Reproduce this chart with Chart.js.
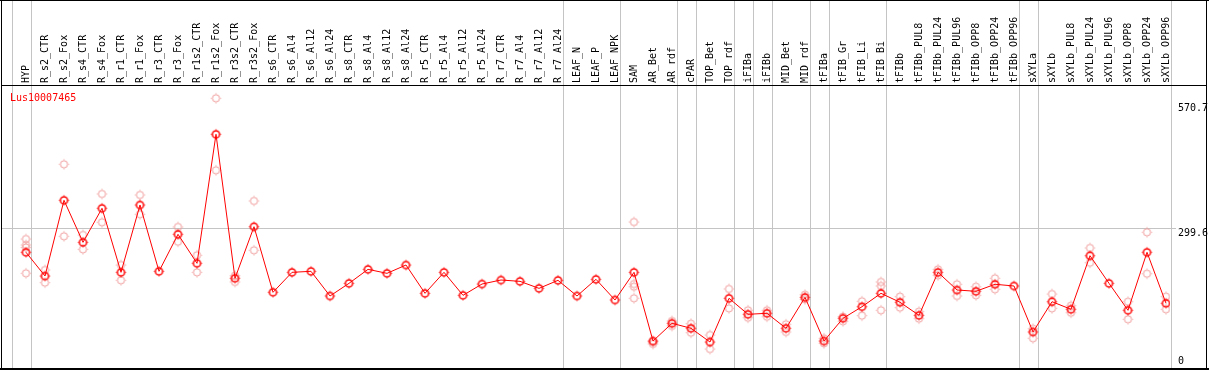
<!DOCTYPE html>
<html><head><meta charset="utf-8">
<script src="https://cdn.jsdelivr.net/npm/chart.js@4"></script>
<style>html,body{margin:0;padding:0;background:#fff;overflow:hidden}</style>
</head><body>
<canvas id="c" width="1209" height="370"></canvas>
<script>
const categories = ['HYP','R_s2_CTR','R_s2_Fox','R_s4_CTR','R_s4_Fox','R_r1_CTR','R_r1_Fox','R_r3_CTR','R_r3_Fox','R_r1s2_CTR','R_r1s2_Fox','R_r3s2_CTR','R_r3s2_Fox','R_s6_CTR','R_s6_Al4','R_s6_Al12','R_s6_Al24','R_s8_CTR','R_s8_Al4','R_s8_Al12','R_s8_Al24','R_r5_CTR','R_r5_Al4','R_r5_Al12','R_r5_Al24','R_r7_CTR','R_r7_Al4','R_r7_Al12','R_r7_Al24','LEAF_N','LEAF_P','LEAF_NPK','SAM','AR_Bet','AR_rdf','cPAR','TOP_Bet','TOP_rdf','iFIBa','iFIBb','MID_Bet','MID_rdf','tFIBa','tFIB_Gr','tFIB_Li','tFIB_Bi','tFIBb','tFIBb_PUL8','tFIBb_PUL24','tFIBb_PUL96','tFIBb_OPP8','tFIBb_OPP24','tFIBb_OPP96','sXYLa','sXYLb','sXYLb_PUL8','sXYLb_PUL24','sXYLb_PUL96','sXYLb_OPP8','sXYLb_OPP24','sXYLb_OPP96'];
const means = [247.0,195.5,360.0,268.7,342.6,203.5,349.8,205.7,286.1,223.1,503.4,190.5,302.6,160.1,203.5,205.7,152.1,179.6,210.0,201.3,219.4,157.9,203.5,153.5,178.1,186.8,183.9,168.7,186.1,152.1,188.3,143.4,203.5,54.3,92.8,81.9,52.1,147.1,112.3,114.5,81.9,149.2,54.3,103.6,128.8,157.9,138.4,110.1,203.5,165.1,162.3,177.5,173.8,73.9,139.7,123.2,239.6,179.6,121.0,247.0,136.2];
const replicates = [[275.9,262.9,257.4,201.4],[208.6,181.0],[438.2,281.8],[284.6,253.5],[373.7,312.2],[219.4,186.2],[371.5,329.6],[],[302.0,270.0],[240.5,203.5],[581.6,425.2],[196.2,182.5],[358.5,251.4],[],[],[],[],[],[],[],[],[],[],[],[],[],[],[],[],[],[],[],[312.8,178.1,172.3,147.1],[52.0,47.8],[97.8,86.9],[91.9,72.3],[67.3,36.9],[167.3,125.3],[121.0,104.9],[121.0,107.1],[90.6,73.9],[154.9,144.9],[60.2,49.3],[107.1,97.1],[140.6,109.3],[182.5,173.8,121.0],[150.6,126.7],[118.0,102.8],[210.0,197.0],[177.5,152.1],[172.3,153.6],[190.5,166.6],[],[81.0,60.2],[156.4,125.3],[131.0,115.8],[256.4,224.4],[],[139.7,101.5],[290.5,200.5],[150.6,123.2]];
const yTickValues = [0, 299.6, 570.7];
const yTickLabels = ['0', '299.6', '570.7'];
const separatorsAfter = [-1,0,28,31,34,35,37,38,39,41,42,45,52,53,60];
const seriesName = 'Lus10007465';

const FONT = '"DejaVu Sans Mono", monospace';

function makeMarker(color, r, lw) {
  const s = 13, c = document.createElement('canvas');
  c.width = s; c.height = s;
  const g = c.getContext('2d');
  g.strokeStyle = color; g.lineWidth = lw;
  g.beginPath(); g.arc(6.5, 6.5, r, 0, Math.PI * 2); g.stroke();
  g.fillStyle = color;
  g.fillRect(6, 1.5, 1, 1); g.fillRect(6, 10.5, 1, 1);
  g.fillRect(1.5, 6, 1, 1); g.fillRect(10.5, 6, 1, 1);
  return c;
}
const meanMarker = makeMarker('#ff0000', 3.6, 1.5);
const repMarker = makeMarker('#f09a9a', 3.6, 1.0);

const meanData = means.map((v, i) => ({x: i, y: v}));
const repData = [];
replicates.forEach((arr, i) => arr.forEach(v => repData.push({x: i, y: v})));

const deco = {
  id: 'deco',
  beforeDatasetsDraw(chart) {
    const ctx = chart.ctx, xs = chart.scales.x;
    ctx.save();
    ctx.fillStyle = '#c4c4c4';
    separatorsAfter.forEach(i => {
      const px = Math.round(xs.getPixelForValue(i + 0.24));
      ctx.fillRect(px, 0, 1, 370);
    });
    ctx.restore();
  },
  afterDraw(chart) {
    const ctx = chart.ctx, ys = chart.scales.y;
    ctx.save();
    ctx.fillStyle = '#000';
    ctx.fillRect(0, 0, 1209, 1);
    ctx.fillRect(1, 0, 1, 370);
    ctx.fillRect(0, 368, 1209, 2);
    ctx.fillRect(1206, 0, 1, 370);
    ctx.fillRect(1, 85, 1206, 1);
    ctx.font = '10px ' + FONT;
    ctx.textBaseline = 'alphabetic';
    ctx.textAlign = 'left';
    yTickValues.forEach((v, k) => {
      const py = ys.getPixelForValue(v);
      const base = v === 0 ? py - 1.5 : py + 7.5;
      ctx.fillText(yTickLabels[k], 1178, base);
    });
    ctx.fillStyle = '#ff0000';
    ctx.fillText(seriesName, 10, 101);
    ctx.restore();
  }
};

new Chart(document.getElementById('c'), {
  type: 'line',
  data: {
    datasets: [
      {label: seriesName, data: meanData, borderColor: '#ff0000', borderWidth: 1, tension: 0,
       pointStyle: meanMarker, pointRadius: 5, pointHoverRadius: 5, fill: false},
      {label: 'replicates', data: repData, showLine: false, borderColor: '#f09a9a',
       pointStyle: repMarker, pointRadius: 5, pointHoverRadius: 5}
    ]
  },
  options: {
    responsive: false,
    animation: false,
    events: [],
    layout: {autoPadding: false, padding: {left: 2, right: 0, top: 0, bottom: 2}},
    plugins: {legend: {display: false}, tooltip: {enabled: false}, title: {display: false}},
    scales: {
      x: {
        type: 'linear', position: 'top',
        min: -24 / 19, max: -24 / 19 + 1168 / 19,
        afterBuildTicks: s => { s.ticks = categories.map((_, i) => ({value: i})); },
        afterFit: s => { s.height = 86; s.paddingLeft = 0; s.paddingRight = 0; },
        grid: {display: false, drawTicks: false},
        border: {display: false},
        ticks: {
          autoSkip: false, minRotation: 90, maxRotation: 90, padding: 3, labelOffset: 12,
          color: '#000', font: {family: FONT, size: 10},
          callback: v => categories[v]
        }
      },
      y: {
        type: 'linear', position: 'right',
        min: -4.35, max: 608.3,
        afterBuildTicks: s => { s.ticks = yTickValues.map(v => ({value: v})); },
        afterFit: s => { s.width = 39; },
        border: {display: false},
        grid: {
          drawTicks: true, tickLength: 6, lineWidth: 1,
          color: c => (c.tick && c.tick.value === 299.6) ? '#c4c4c4' : 'rgba(0,0,0,0)'
        },
        ticks: {display: false}
      }
    }
  },
  plugins: [deco]
});
</script>
</body></html>
